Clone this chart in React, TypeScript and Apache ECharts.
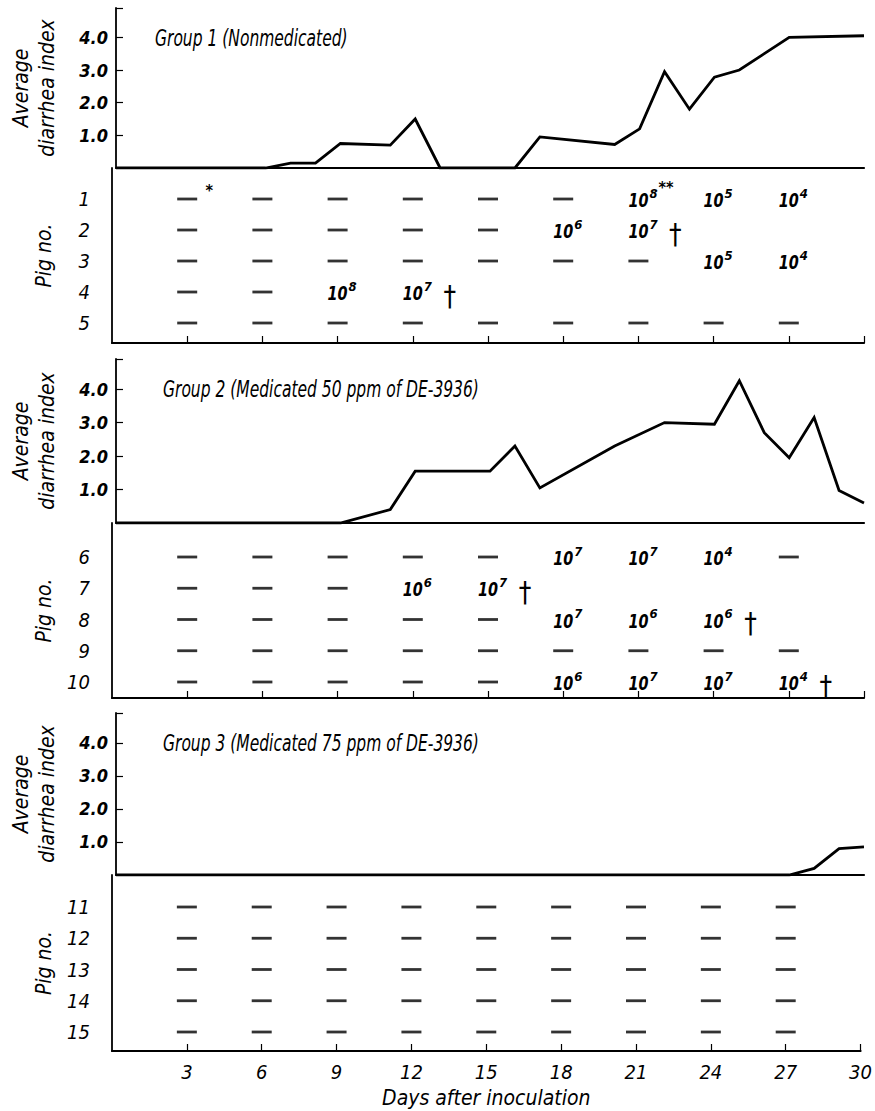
import React, { useEffect, useRef } from 'react';
import * as echarts from 'echarts';

const FONT = "'Liberation Sans Narrow','DejaVu Sans Condensed','Roboto Condensed','Liberation Sans',sans-serif";

const groupTitles = [
  'Group 1 (Nonmedicated)',
  'Group 2 (Medicated 50 ppm of DE-3936)',
  'Group 3 (Medicated 75 ppm of DE-3936)',
];
const sampleDays = [3, 6, 9, 12, 15, 18, 21, 24, 27];
const dayTicks = [3, 6, 9, 12, 15, 18, 21, 24, 27, 30];
const indexTicks = [1, 2, 3, 4];

const group1Index = [[0, 0], [6, 0], [7, 0.15], [8, 0.15], [9, 0.75], [11, 0.7], [12, 1.5], [13, 0], [16, 0], [17, 0.95], [20, 0.72], [21, 1.2], [22, 2.95], [23, 1.8], [24, 2.78], [25, 3.0], [27, 4.0], [30, 4.05]];
const group2Index = [[0, 0], [9, 0], [11, 0.4], [12, 1.55], [15, 1.55], [16, 2.3], [17, 1.05], [20, 2.3], [22, 3.0], [24, 2.95], [25, 4.25], [26, 2.7], [27, 1.95], [28, 3.15], [29, 0.97], [30, 0.6]];
const group3Index = [[0, 0], [27, 0], [28, 0.2], [29, 0.8], [30, 0.85]];

const group1Pigs = ['1', '2', '3', '4', '5'];
const group2Pigs = ['6', '7', '8', '9', '10'];
const group3Pigs = ['11', '12', '13', '14', '15'];

// '-' = negative, '' = no sample, digit n = 10^n, '†' = died, '*' / '**' = note marks
const group1Cells = [
  ['-*', '-', '-', '-', '-', '-', '8**', '5', '4'],
  ['-', '-', '-', '-', '-', '6', '7†', '', ''],
  ['-', '-', '-', '-', '-', '-', '-', '5', '4'],
  ['-', '-', '8', '7†', '', '', '', '', ''],
  ['-', '-', '-', '-', '-', '-', '-', '-', '-'],
];
const group2Cells = [
  ['-', '-', '-', '-', '-', '7', '7', '4', '-'],
  ['-', '-', '-', '6', '7†', '', '', '', ''],
  ['-', '-', '-', '-', '-', '7', '6', '6†', ''],
  ['-', '-', '-', '-', '-', '-', '-', '-', '-'],
  ['-', '-', '-', '-', '-', '6', '7', '7', '4†'],
];
const group3Cells = [
  ['-', '-', '-', '-', '-', '-', '-', '-', '-'],
  ['-', '-', '-', '-', '-', '-', '-', '-', '-'],
  ['-', '-', '-', '-', '-', '-', '-', '-', '-'],
  ['-', '-', '-', '-', '-', '-', '-', '-', '-'],
  ['-', '-', '-', '-', '-', '-', '-', '-', '-'],
];

const groupIndex = [group1Index, group2Index, group3Index];
const groupPigs = [group1Pigs, group2Pigs, group3Pigs];
const groupCells = [group1Cells, group2Cells, group3Cells];

// layout (pixels) per panel
const LAYOUT = [
  { upperTop: 8, upperH: 160, lowerH: 175, rowMin: 0, rowMax: 5.645, titleLeft: 155 },
  { upperTop: 359, upperH: 164, lowerH: 175, rowMin: -0.088, rowMax: 5.512, titleLeft: 163 },
  { upperTop: 713, upperH: 162, lowerH: 176, rowMin: -0.024, rowMax: 5.608, titleLeft: 163 },
];

function buildOption() {
  const grid: any[] = [];
  const xAxis: any[] = [];
  const yAxis: any[] = [];
  const series: any[] = [];
  const graphic: any[] = [];
  const black = '#000';

  LAYOUT.forEach((L, i) => {
    const isLast = i === LAYOUT.length - 1;
    grid.push({ left: 112, right: 11, top: L.upperTop, height: L.upperH });
    grid.push({ left: 112, right: 11, top: L.upperTop + L.upperH, height: L.lowerH });

    graphic.push({
      type: 'text',
      x: L.titleLeft,
      y: L.upperTop + 30,
      scaleX: 0.75,
      style: {
        text: groupTitles[i],
        font: `italic 23px ${FONT}`,
        align: 'left',
        verticalAlign: 'middle',
        fill: black,
      },
    });

    // upper x axis (baseline)
    xAxis.push({
      type: 'value', gridIndex: 2 * i, min: 0, max: 30,
      axisLine: { show: true, onZero: false, lineStyle: { color: black, width: 2.2 } },
      axisTick: { show: false }, axisLabel: { show: false }, splitLine: { show: false },
    });
    // lower x axis (days)
    xAxis.push({
      type: 'value', gridIndex: 2 * i + 1, min: 0, max: 30, interval: 3,
      axisLine: { show: true, onZero: false, lineStyle: { color: black, width: 2.2 } },
      axisTick: { show: true, inside: true, length: 7, customValues: dayTicks, lineStyle: { color: black, width: 1.2 } },
      axisLabel: {
        show: isLast, customValues: dayTicks, margin: 11,
        fontFamily: FONT, fontStyle: 'italic', fontSize: 20, color: black,
      },
      splitLine: { show: false },
      name: isLast ? 'Days after inoculation' : '',
      nameLocation: 'middle', nameGap: 36,
      nameTextStyle: { fontFamily: FONT, fontStyle: 'italic', fontSize: 21, color: black },
    });

    // upper y axis (index)
    yAxis.push({
      type: 'value', gridIndex: 2 * i, min: 0, max: 4.9,
      axisLine: { show: true, onZero: false, lineStyle: { color: black, width: 1.8 } },
      axisTick: { show: true, inside: true, length: 7, customValues: [...indexTicks, 4.9], lineStyle: { color: black, width: 1.2 } },
      axisLabel: {
        customValues: indexTicks, margin: 8,
        formatter: (v: number) => v.toFixed(1),
        fontFamily: FONT, fontStyle: 'italic', fontWeight: 'bold', fontSize: 18, color: black,
      },
      splitLine: { show: false },
      name: 'Average\ndiarrhea index', nameLocation: 'middle', nameRotate: 90, nameGap: 56,
      nameTextStyle: { fontFamily: FONT, fontStyle: 'italic', fontSize: 21, lineHeight: 26, color: black },
    });
    // lower y axis (pig rows)
    const pigs = groupPigs[i];
    yAxis.push({
      type: 'value', gridIndex: 2 * i + 1, inverse: true, min: L.rowMin, max: L.rowMax,
      axisLine: { show: true, onZero: false, lineStyle: { color: black, width: 1.8 } },
      axisTick: { show: false },
      axisLabel: {
        customValues: [1, 2, 3, 4, 5], margin: 22,
        formatter: (v: number) => pigs[Math.round(v) - 1] ?? '',
        fontFamily: FONT, fontStyle: 'italic', fontSize: 20, color: black,
        padding: [0, 0, 8, 0],
      },
      splitLine: { show: false },
      name: 'Pig no.', nameLocation: 'middle', nameRotate: 90, nameGap: 58,
      nameTextStyle: { fontFamily: FONT, fontStyle: 'italic', fontSize: 21, color: black },
    });

    // index line
    series.push({
      type: 'line', xAxisIndex: 2 * i, yAxisIndex: 2 * i,
      data: groupIndex[i], symbol: 'none', z: 5,
      lineStyle: { color: black, width: 2.8, join: 'miter' },
    });

    // pig table cells
    const cells = groupCells[i];
    const dashes: number[][] = [];
    const texts: { day: number; row: number; code: string }[] = [];
    cells.forEach((row, r) => {
      row.forEach((code, c) => {
        if (!code) return;
        const day = sampleDays[c];
        if (code.startsWith('-')) {
          dashes.push([day, r + 1]);
          if (code.length > 1) texts.push({ day, row: r + 1, code });
        } else {
          texts.push({ day, row: r + 1, code });
        }
      });
    });
    series.push({
      type: 'scatter', xAxisIndex: 2 * i + 1, yAxisIndex: 2 * i + 1,
      data: dashes, symbol: 'rect', symbolSize: [20, 2.8],
      itemStyle: { color: black },
    });
    series.push({
      type: 'custom', xAxisIndex: 2 * i + 1, yAxisIndex: 2 * i + 1,
      data: texts.map((t) => [t.day, t.row]),
      renderItem: (params: any, api: any) => {
        const item = texts[params.dataIndex];
        const p = api.coord([api.value(0), api.value(1)]);
        const children: any[] = [];
        if (item.code.startsWith('-')) {
          children.push({
            type: 'text', x: p[0] + 22, y: p[1] - 9,
            style: { text: item.code.slice(1), font: `bold 16px ${FONT}`, align: 'center', verticalAlign: 'middle', fill: black },
          });
        } else {
          const exp = item.code.charAt(0);
          const suffix = item.code.slice(1);
          children.push({
            type: 'text', x: p[0], y: p[1] + 1, scaleX: 0.8,
            style: { text: '10', font: `italic bold 20px ${FONT}`, align: 'center', verticalAlign: 'middle', fill: black },
          });
          children.push({
            type: 'text', x: p[0] + 11, y: p[1] - 6,
            style: { text: exp, font: `italic bold 13px ${FONT}`, align: 'left', verticalAlign: 'middle', fill: black },
          });
          if (suffix === '**') {
            children.push({
              type: 'text', x: p[0] + 20, y: p[1] - 12,
              style: { text: '**', font: `bold 16px ${FONT}`, align: 'left', verticalAlign: 'middle', fill: black },
            });
          } else if (suffix === '†') {
            children.push({
              type: 'text', x: p[0] + 37, y: p[1] + 4,
              style: { text: '†', font: `28px ${FONT}`, align: 'center', verticalAlign: 'middle', fill: black },
            });
          }
        }
        return { type: 'group', children };
      },
    });
  });

  return {
    animation: false,
    backgroundColor: '#fff',
    graphic, grid, xAxis, yAxis, series,
  };
}

export default function App() {
  const ref = useRef<HTMLDivElement>(null);
  useEffect(() => {
    if (!ref.current) return;
    const chart = echarts.init(ref.current, undefined, { renderer: 'svg' });
    chart.setOption(buildOption() as any);
    return () => chart.dispose();
  }, []);
  return (
    <div
      ref={ref}
      style={{ position: 'fixed', left: 0, top: 0, width: 875, height: 1111, background: '#fff' }}
    />
  );
}
